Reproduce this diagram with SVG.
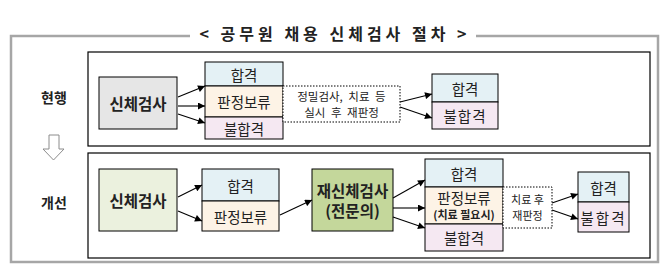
<svg xmlns="http://www.w3.org/2000/svg" width="667" height="272" viewBox="0 0 667 272">
<defs>
<marker id="ah" viewBox="0 0 10 10" refX="10" refY="5" markerWidth="8" markerHeight="7" markerUnits="userSpaceOnUse" orient="auto">
<path d="M0,0 L10,5 L0,10 z" fill="#000"/>
</marker>
<style>
text{font-family:"Noto Sans CJK KR","Noto Sans",sans-serif;fill:#222;text-anchor:middle;dominant-baseline:central}
.frame{fill:none;stroke:#a6a6a6;stroke-width:2.5}
.inner{fill:#fff;stroke:#000;stroke-width:1.2}
.box{stroke:#000;stroke-width:1}
.pass{fill:#e4f1f5}
.hold{fill:#fdf3e6}
.fail{fill:#f5e8f2}
.dot{fill:#fff;stroke:#000;stroke-width:1;stroke-dasharray:1.5 1.5}
.conn line{stroke:#000;stroke-width:1.1;marker-end:url(#ah)}
.t14{font-size:14.5px}
.b15{font-size:15.5px;font-weight:bold}
.lab{font-size:14px;font-weight:bold}
.s12{font-size:11.5px;word-spacing:3px}
.s11{font-size:11px}
</style>
</defs>
<rect width="667" height="272" fill="#fff"/>
<g id="frame">
<path class="frame" d="M190,36 H11 V262 H658 V36 H476"/>
<text x="335" y="33" style="font-size:16px;font-weight:bold;letter-spacing:4px">&lt; 공무원 채용 신체검사 절차 &gt;</text>
</g>
<rect class="inner" x="88" y="52" width="562" height="94"/>
<rect class="inner" x="88" y="153" width="562" height="105"/>
<g id="label-current"><text class="lab" x="54" y="97">현행</text></g>
<g id="label-down"><path d="M49,135 H59 V149 H64 L53.5,160 L43,149 H49 Z" fill="#fff" stroke="#8c8c8c" stroke-width="1"/></g>
<g id="label-improved"><text class="lab" x="54" y="202">개선</text></g>

<g id="u-exam"><rect class="box" x="99" y="77" width="78" height="52" fill="#e6e6e6"/><text class="b15" x="138" y="103">신체검사</text></g>
<g id="u-result">
<rect class="box pass" x="205" y="62" width="78" height="24"/><text class="t14" x="244" y="74">합격</text>
<rect class="box hold" x="205" y="86" width="78" height="31"/><text class="t14" x="244" y="101.5">판정보류</text>
<rect class="box fail" x="205" y="117" width="78" height="22"/><text class="t14" x="244" y="128">불합격</text>
</g>
<g id="u-note"><rect class="dot" x="283" y="86" width="117" height="36"/><text class="s12" x="341.5" y="96">정밀검사, 치료 등</text><text class="s12" x="341.5" y="112">실시 후 재판정</text></g>
<g id="u-final">
<rect class="box pass" x="432" y="74" width="66" height="28"/><text class="t14" x="465" y="88">합격</text>
<rect class="box fail" x="432" y="102" width="66" height="27"/><text class="t14" x="465" y="115.5" style="letter-spacing:1px">불합격</text>
</g>

<g id="l-exam"><rect class="box" x="99" y="169" width="78" height="62" fill="#ebf1de"/><text class="b15" x="138" y="200">신체검사</text></g>
<g id="l-result">
<rect class="box pass" x="202" y="169" width="77" height="32"/><text class="t14" x="240.5" y="185">합격</text>
<rect class="box hold" x="202" y="201" width="77" height="30"/><text class="t14" x="240.5" y="216">판정보류</text>
</g>
<g id="l-reexam"><rect class="box" x="312" y="169" width="81" height="62" fill="#c4d79b"/><text class="b15" x="352.5" y="190">재신체검사</text><text class="b15" x="352.5" y="210">(전문의)</text></g>
<g id="l-result2">
<rect class="box pass" x="425" y="159" width="78" height="28"/><text class="t14" x="464" y="173">합격</text>
<rect class="box hold" x="425" y="187" width="78" height="37"/><text class="t14" x="464" y="197">판정보류</text><text x="464" y="214" style="font-size:11px;font-weight:bold">(치료 필요시)</text>
<rect class="box fail" x="425" y="224" width="78" height="27"/><text class="t14" x="464" y="237.5">불합격</text>
</g>
<g id="l-note"><rect class="dot" x="503" y="187" width="49" height="41"/><text class="s11" x="527.5" y="199">치료 후</text><text class="s11" x="527.5" y="215">재판정</text></g>
<g id="l-final">
<rect class="box pass" x="578" y="172" width="51" height="30"/><text class="t14" x="603.5" y="187">합격</text>
<rect class="box fail" x="578" y="202" width="51" height="30"/><text class="t14" x="603.5" y="217" style="letter-spacing:2px">불합격</text>
</g>

<g id="connectors" class="conn">
<line x1="178" y1="97" x2="205" y2="86"/>
<line x1="178" y1="106" x2="205" y2="106"/>
<line x1="178" y1="114" x2="205" y2="123"/>
<line x1="400" y1="102" x2="432" y2="94"/>
<line x1="400" y1="107" x2="432" y2="118"/>
<line x1="178" y1="197" x2="202" y2="185"/>
<line x1="178" y1="211" x2="202" y2="221"/>
<line x1="280" y1="215" x2="312" y2="200"/>
<line x1="393" y1="198" x2="425" y2="180"/>
<line x1="393" y1="208" x2="425" y2="208"/>
<line x1="393" y1="217" x2="425" y2="228"/>
<line x1="552" y1="203" x2="578" y2="194"/>
<line x1="552" y1="210" x2="578" y2="219"/>
</g>
</svg>
